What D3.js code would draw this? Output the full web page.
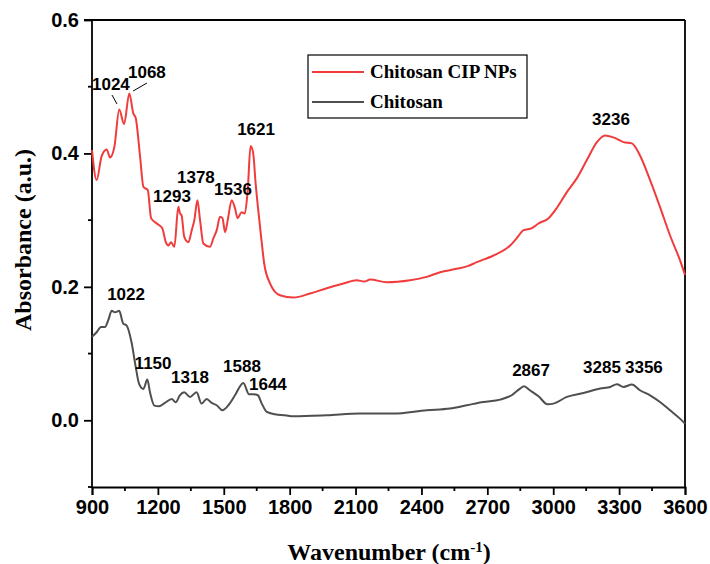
<!DOCTYPE html>
<html>
<head>
<meta charset="utf-8">
<script src="https://cdn.jsdelivr.net/npm/d3@7"></script>
<style>
  html, body { margin: 0; padding: 0; background: #fff; }
  svg { display: block; }
</style>
</head>
<body>
<svg id="chart" width="710" height="564"></svg>
<script>
// ---- Data ----
const cipWavenumber = [900, 921, 944, 967, 982, 1002, 1024, 1046, 1070, 1088, 1099, 1119, 1134, 1154, 1169, 1195, 1220, 1236, 1248, 1260, 1275, 1293, 1301, 1308, 1320, 1339, 1354, 1366, 1380, 1392, 1407, 1437, 1453, 1468, 1483, 1494, 1506, 1518, 1536, 1551, 1563, 1581, 1596, 1609, 1622, 1634, 1645, 1657, 1670, 1684, 1711, 1756, 1817, 1893, 1969, 2045, 2105, 2140, 2166, 2242, 2348, 2424, 2485, 2560, 2610, 2652, 2728, 2804, 2834, 2865, 2903, 2933, 2979, 3016, 3062, 3108, 3153, 3199, 3236, 3274, 3320, 3358, 3395, 3441, 3486, 3532, 3577, 3600];
const cipAbsorbance = [0.405, 0.36, 0.396, 0.406, 0.394, 0.41, 0.466, 0.444, 0.49, 0.46, 0.453, 0.395, 0.35, 0.345, 0.303, 0.295, 0.288, 0.267, 0.262, 0.267, 0.26, 0.32, 0.31, 0.307, 0.275, 0.267, 0.285, 0.30, 0.33, 0.30, 0.265, 0.26, 0.273, 0.285, 0.305, 0.303, 0.282, 0.30, 0.33, 0.318, 0.303, 0.312, 0.31, 0.345, 0.411, 0.40, 0.355, 0.315, 0.275, 0.235, 0.205, 0.1875, 0.184, 0.19, 0.198, 0.205, 0.21, 0.208, 0.211, 0.207, 0.21, 0.215, 0.222, 0.227, 0.231, 0.237, 0.247, 0.262, 0.273, 0.285, 0.288, 0.295, 0.303, 0.318, 0.342, 0.363, 0.39, 0.417, 0.427, 0.424, 0.417, 0.415, 0.397, 0.36, 0.32, 0.277, 0.24, 0.218];

const chiWavenumber = [900, 921, 941, 959, 974, 990, 1005, 1024, 1042, 1058, 1080, 1099, 1114, 1134, 1152, 1164, 1184, 1205, 1232, 1263, 1281, 1300, 1320, 1346, 1376, 1399, 1422, 1445, 1468, 1494, 1521, 1551, 1589, 1615, 1635, 1655, 1673, 1696, 1733, 1779, 1817, 1969, 2120, 2272, 2424, 2530, 2606, 2682, 2758, 2811, 2849, 2867, 2894, 2933, 2974, 3001, 3062, 3138, 3214, 3260, 3290, 3320, 3358, 3395, 3441, 3486, 3532, 3577, 3600];
const chiAbsorbance = [0.125, 0.132, 0.14, 0.14, 0.15, 0.164, 0.162, 0.164, 0.145, 0.142, 0.117, 0.08, 0.055, 0.047, 0.061, 0.042, 0.022, 0.021, 0.026, 0.032, 0.027, 0.0375, 0.042, 0.035, 0.042, 0.025, 0.032, 0.026, 0.0225, 0.015, 0.0225, 0.0375, 0.056, 0.039, 0.039, 0.0375, 0.025, 0.0125, 0.009, 0.0075, 0.006, 0.0075, 0.01, 0.01, 0.015, 0.0175, 0.0225, 0.0275, 0.031, 0.0375, 0.0475, 0.051, 0.045, 0.036, 0.024, 0.025, 0.035, 0.041, 0.0475, 0.05, 0.054, 0.05, 0.0535, 0.045, 0.0375, 0.0275, 0.015, 0.0025, -0.005];

const seriesNames = ["Chitosan CIP NPs", "Chitosan"];
const seriesColors = ["#f03c3c", "#4f4f4f"];

const xTicks = [900, 1200, 1500, 1800, 2100, 2400, 2700, 3000, 3300, 3600];
const yTicks = [0.0, 0.2, 0.4, 0.6];

// Peak annotations: label, x position (cm-1), y position (a.u.) of label baseline
const peakLabels = ["1024", "1068", "1293", "1378", "1536", "1621", "3236", "1022", "1150", "1318", "1588", "1644", "2867", "3285", "3356"];
const peakLabelX = [986, 1150, 1264, 1373, 1542, 1647, 3263, 1055, 1178, 1346, 1583, 1701, 2899, 3222, 3413];
const peakLabelY = [0.495, 0.513, 0.327, 0.3555, 0.338, 0.4275, 0.4425, 0.180, 0.0765, 0.0555, 0.072, 0.045, 0.066, 0.0705, 0.0705];

// ---- Layout ----
const svg = d3.select("#chart");
const x = d3.scaleLinear().domain([900, 3600]).range([92, 685]);
const y = d3.scaleLinear().domain([-0.1, 0.6]).range([487, 20]);

const sansBold = "'Liberation Sans', Arial, sans-serif";
const serifBold = "'Liberation Serif', 'Times New Roman', serif";

// Frame (top and right borders)
svg.append("line").attr("x1", x(900)).attr("x2", x(3600)).attr("y1", y(0.6)).attr("y2", y(0.6))
  .attr("stroke", "#000").attr("stroke-width", 1.8);
svg.append("line").attr("x1", x(3600)).attr("x2", x(3600)).attr("y1", y(0.6)).attr("y2", y(-0.1))
  .attr("stroke", "#000").attr("stroke-width", 1.8);

// Axes
const xMinor = d3.range(1050, 3600, 300);
const yMinor = [-0.1, 0.1, 0.3, 0.5];

const xAxis = svg.append("g").attr("transform", `translate(0,${y(-0.1)})`)
  .call(d3.axisBottom(x).tickValues(xTicks).tickFormat(d3.format("d")).tickSize(8).tickPadding(5));
const yAxis = svg.append("g").attr("transform", `translate(${x(900)},0)`)
  .call(d3.axisLeft(y).tickValues(yTicks).tickFormat(d3.format(".1f")).tickSize(8).tickPadding(5));

[xAxis, yAxis].forEach(g => {
  g.select(".domain").attr("stroke-width", 1.8).attr("stroke", "#000");
  g.selectAll(".tick line").attr("stroke-width", 1.8).attr("stroke", "#000");
  g.selectAll(".tick text").attr("font-family", sansBold).attr("font-weight", "bold")
    .attr("font-size", 20).attr("fill", "#000");
});
yAxis.select(".domain").attr("d", `M-8,${y(0.6)}H0V${y(-0.1)}`);

svg.append("g").selectAll("line").data(xMinor).join("line")
  .attr("x1", d => x(d)).attr("x2", d => x(d)).attr("y1", y(-0.1)).attr("y2", y(-0.1) + 4)
  .attr("stroke", "#000").attr("stroke-width", 1.8);
svg.append("g").selectAll("line").data(yMinor).join("line")
  .attr("x1", x(900) - 4).attr("x2", x(900)).attr("y1", d => y(d)).attr("y2", d => y(d))
  .attr("stroke", "#000").attr("stroke-width", 1.8);

// Axis titles
svg.append("text").attr("x", 389).attr("y", 560).attr("text-anchor", "middle")
  .attr("font-family", serifBold).attr("font-weight", "bold").attr("font-size", 24)
  .html('Wavenumber (cm<tspan baseline-shift="super" font-size="15">-1</tspan>)');
svg.append("text").attr("transform", "translate(31,240) rotate(-90)").attr("text-anchor", "middle")
  .attr("font-family", serifBold).attr("font-weight", "bold").attr("font-size", 24)
  .text("Absorbance (a.u.)");

// Lines
const line = d3.line().x(d => x(d[0])).y(d => y(d[1])).curve(d3.curveMonotoneX);
const cipData = d3.zip(cipWavenumber, cipAbsorbance);
const chiData = d3.zip(chiWavenumber, chiAbsorbance);

svg.append("path").datum(chiData).attr("d", line).attr("fill", "none")
  .attr("stroke", seriesColors[1]).attr("stroke-width", 2).attr("stroke-linejoin", "round");
svg.append("path").datum(cipData).attr("d", line).attr("fill", "none")
  .attr("stroke", seriesColors[0]).attr("stroke-width", 2).attr("stroke-linejoin", "round");

// Peak labels
svg.append("g").selectAll("text").data(peakLabels).join("text")
  .attr("x", (d, i) => x(peakLabelX[i]))
  .attr("y", (d, i) => y(peakLabelY[i]))
  .attr("text-anchor", "middle")
  .attr("font-family", sansBold).attr("font-weight", "bold").attr("font-size", 17)
  .attr("fill", "#000")
  .text(d => d);

// Leader lines for 1024 and 1068
const leaderFrom = [[991, 0.4875], [1150, 0.5055]];
const leaderTo = [[1014, 0.474], [1087, 0.4935]];
svg.append("g").selectAll("line").data(leaderFrom).join("line")
  .attr("x1", d => x(d[0])).attr("y1", d => y(d[1]))
  .attr("x2", (d, i) => x(leaderTo[i][0])).attr("y2", (d, i) => y(leaderTo[i][1]))
  .attr("stroke", "#000").attr("stroke-width", 1);

// Legend
const legend = svg.append("g");
legend.append("rect").attr("x", 308).attr("y", 55).attr("width", 219).attr("height", 63)
  .attr("fill", "#fff").attr("stroke", "#000").attr("stroke-width", 1.2);
seriesNames.forEach((name, i) => {
  const ly = 72 + i * 30;
  legend.append("line").attr("x1", 312).attr("x2", 364).attr("y1", ly).attr("y2", ly)
    .attr("stroke", seriesColors[i]).attr("stroke-width", 2);
  legend.append("text").attr("x", 370).attr("y", ly + 6)
    .attr("font-family", serifBold).attr("font-weight", "bold").attr("font-size", 19)
    .attr("fill", "#000").text(name);
});
</script>
</body>
</html>
